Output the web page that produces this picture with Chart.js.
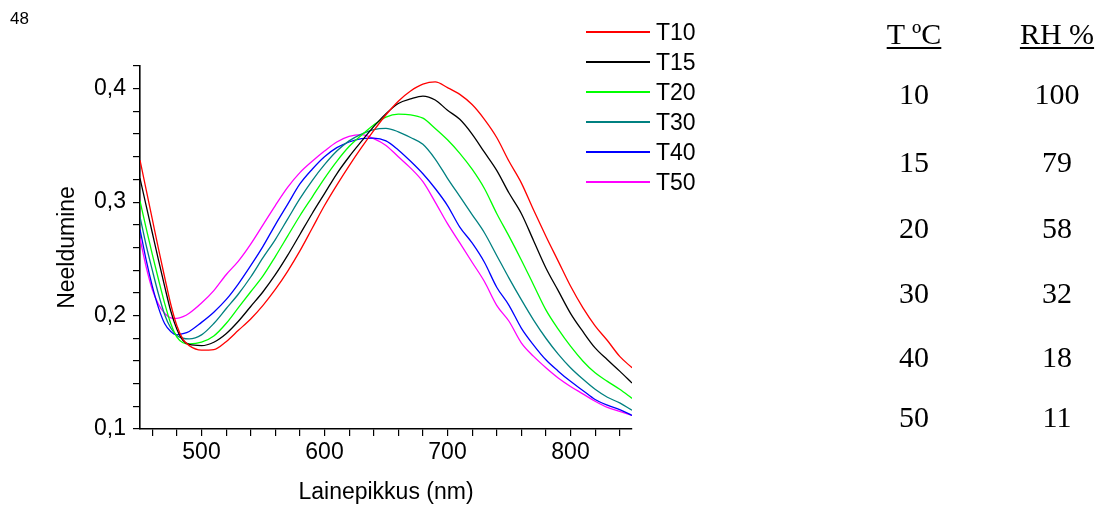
<!DOCTYPE html>
<html>
<head>
<meta charset="utf-8">
<script src="https://cdn.jsdelivr.net/npm/chart.js@4/dist/chart.umd.min.js"></script>
<style>
    html, body { margin: 0; padding: 0; background: #fff; }
    #wrap { position: relative; width: 1101px; height: 506px; overflow: hidden; }
    #chart { position: absolute; left: 0; top: 0; }
    .txt { position: absolute; white-space: nowrap; color: #000; }
    .sans { font-family: "Liberation Sans", Arial, sans-serif; }
    .serif { font-family: "Liberation Serif", "Times New Roman", serif; font-size: 30px; line-height: 30px; text-align: center; width: 120px; }
    .legline { position: absolute; height: 2px; width: 64px; }
</style>
</head>
<body>
<div id="wrap">
    <canvas id="chart" width="1101" height="506"></canvas>
</div>
<script>
// lainepikkused (nm)
const wavelengths = [450, 455, 460, 465, 470, 475, 480, 485, 490, 500, 510, 520, 530, 540, 550, 560, 570, 580, 590, 600,
    610, 620, 630, 640, 650, 660, 670, 680, 690, 700, 710, 720, 730, 740, 750, 760, 770, 780, 790, 800,
    810, 820, 830, 840, 850];

const t10 = [0.337, 0.311, 0.285, 0.259, 0.234, 0.210, 0.191, 0.179, 0.1735, 0.1695, 0.170, 0.177, 0.187, 0.197, 0.209, 0.223, 0.239, 0.257, 0.277, 0.297,
    0.315, 0.332, 0.348, 0.363, 0.377, 0.389, 0.398, 0.404, 0.406, 0.401, 0.395, 0.386, 0.373, 0.357, 0.336, 0.317, 0.293, 0.270, 0.248, 0.226,
    0.207, 0.191, 0.178, 0.164, 0.154];
const t15 = [0.321, 0.297, 0.273, 0.249, 0.226, 0.204, 0.188, 0.178, 0.1745, 0.1735, 0.1765, 0.184, 0.195, 0.208, 0.221, 0.236, 0.253, 0.2715, 0.290, 0.3075,
    0.325, 0.340, 0.3535, 0.3665, 0.378, 0.387, 0.391, 0.3935, 0.390, 0.381, 0.373, 0.360, 0.344, 0.328, 0.308, 0.290, 0.266, 0.242, 0.222, 0.202,
    0.186, 0.1715, 0.161, 0.151, 0.1405];
const t20 = [0.301, 0.277, 0.254, 0.232, 0.211, 0.193, 0.181, 0.176, 0.175, 0.1765, 0.182, 0.193, 0.207, 0.221, 0.235, 0.252, 0.270, 0.288, 0.3045, 0.321,
    0.336, 0.349, 0.359, 0.368, 0.375, 0.3775, 0.377, 0.374, 0.365, 0.355, 0.343, 0.329, 0.312, 0.290, 0.270, 0.249, 0.227, 0.205, 0.188, 0.173,
    0.160, 0.1495, 0.142, 0.135, 0.127];
const t30 = [0.287, 0.262, 0.240, 0.219, 0.201, 0.189, 0.1825, 0.180, 0.1795, 0.183, 0.193, 0.206, 0.219, 0.234, 0.251, 0.267, 0.285, 0.303, 0.319, 0.333,
    0.345, 0.354, 0.360, 0.364, 0.365, 0.362, 0.357, 0.351, 0.338, 0.321, 0.305, 0.289, 0.273, 0.253, 0.233, 0.214, 0.196, 0.180, 0.166, 0.154,
    0.144, 0.135, 0.128, 0.123, 0.1165];
const t40 = [0.276, 0.249, 0.226, 0.207, 0.193, 0.186, 0.183, 0.184, 0.186, 0.194, 0.203, 0.214, 0.228, 0.244, 0.261, 0.280, 0.298, 0.316, 0.329, 0.340,
    0.348, 0.353, 0.356, 0.3565, 0.354, 0.346, 0.336, 0.325, 0.312, 0.297, 0.278, 0.264, 0.247, 0.225, 0.209, 0.189, 0.174, 0.161, 0.151, 0.142,
    0.134, 0.126, 0.121, 0.117, 0.112];
const t50 = [0.268, 0.243, 0.223, 0.210, 0.202, 0.198, 0.1975, 0.199, 0.202, 0.211, 0.222, 0.236, 0.248, 0.263, 0.280, 0.297, 0.313, 0.326, 0.336, 0.345,
    0.353, 0.358, 0.3595, 0.356, 0.350, 0.340, 0.330, 0.318, 0.300, 0.281, 0.264, 0.247, 0.230, 0.209, 0.195, 0.176, 0.164, 0.154, 0.145, 0.1375,
    0.131, 0.1245, 0.119, 0.1155, 0.112];

const seriesNames = ['T10', 'T15', 'T20', 'T30', 'T40', 'T50'];
const seriesValues = [t10, t15, t20, t30, t40, t50];
const seriesColors = ['#ff0000', '#000000', '#00ff00', '#008080', '#0000ff', '#ff00ff'];

// tabel paremal
const tableTemps = ['10', '15', '20', '30', '40', '50'];
const tableRH = ['100', '79', '58', '32', '18', '11'];

// telgede jaotised
const xTicks = [460, 480, 500, 520, 540, 560, 580, 600, 620, 640, 660, 680, 700, 720, 740, 760, 780, 800, 820, 840];
const yTicks = [0.10, 0.12, 0.14, 0.16, 0.18, 0.20, 0.22, 0.24, 0.26, 0.28, 0.30, 0.32, 0.34, 0.36, 0.38, 0.40, 0.42];

const wrap = document.getElementById('wrap');
const sansFont = '"Liberation Sans", Arial, sans-serif';
const axisFontSize = 23;

const datasets = seriesNames.map((name, i) => ({
    label: name,
    data: wavelengths.map((x, j) => ({ x: x, y: seriesValues[i][j] })),
    borderColor: seriesColors[i],
    borderWidth: 1.3,
    pointRadius: 0,
    cubicInterpolationMode: 'monotone',
    fill: false
}));

const isMajor = (v, step) => Math.abs(v / step - Math.round(v / step)) < 1e-6;

new Chart(document.getElementById('chart'), {
    type: 'line',
    data: { datasets: datasets },
    options: {
        responsive: false,
        animation: false,
        events: [],
        layout: { padding: { top: 66, right: 469, bottom: 0, left: 0 } },
        plugins: { legend: { display: false }, tooltip: { enabled: false } },
        scales: {
            x: {
                type: 'linear',
                min: 450,
                max: 850,
                afterBuildTicks: (scale) => { scale.ticks = xTicks.map(v => ({ value: v })); },
                afterFit: (scale) => { scale.height = 77; },
                border: { display: true, color: '#000', width: 1.6 },
                grid: { drawOnChartArea: false, drawTicks: true, tickLength: 7, color: '#000', lineWidth: 1.2 },
                ticks: {
                    autoSkip: false,
                    maxRotation: 0,
                    padding: 3,
                    color: '#000',
                    font: { family: sansFont, size: axisFontSize },
                    callback: (v) => isMajor(v, 100) ? String(v) : ''
                },
                title: {
                    display: true,
                    text: 'Lainepikkus (nm)',
                    color: '#000',
                    font: { family: sansFont, size: axisFontSize },
                    padding: { top: 0, bottom: 0 }
                }
            },
            y: {
                type: 'linear',
                min: 0.1,
                max: 0.42,
                afterBuildTicks: (scale) => { scale.ticks = yTicks.map(v => ({ value: v })); },
                afterFit: (scale) => { scale.width = 140; },
                border: { display: true, color: '#000', width: 1.6 },
                grid: { drawOnChartArea: false, drawTicks: true, tickLength: 7, color: '#000', lineWidth: 1.2 },
                ticks: {
                    autoSkip: false,
                    padding: 7,
                    color: '#000',
                    font: { family: sansFont, size: axisFontSize },
                    callback: (v) => isMajor(v, 0.1) ? v.toFixed(1).replace('.', ',') : ''
                },
                title: {
                    display: true,
                    text: 'Neeldumine',
                    color: '#000',
                    font: { family: sansFont, size: axisFontSize },
                    padding: { top: 54, bottom: 0 }
                }
            }
        }
    }
});

// leheküljenumber
const pageNo = document.createElement('div');
pageNo.className = 'txt sans';
pageNo.style.cssText = 'left:10px;top:10px;font-size:17px;line-height:17px;';
pageNo.textContent = '48';
wrap.appendChild(pageNo);

// legend
seriesNames.forEach((name, i) => {
    const y = 32 + i * 30;
    const line = document.createElement('div');
    line.className = 'legline';
    line.style.left = '586px';
    line.style.top = (y - 1) + 'px';
    line.style.background = seriesColors[i];
    wrap.appendChild(line);
    const lab = document.createElement('div');
    lab.className = 'txt sans';
    lab.style.cssText = 'left:656px;top:' + (y - 11.5) + 'px;font-size:23px;line-height:23px;';
    lab.textContent = name;
    wrap.appendChild(lab);
});

// tabel
const colCenters = [914, 1057];
const rowCenters = [94, 162, 228, 293, 357, 417];
const addCell = (text, cx, cy, underline) => {
    const d = document.createElement('div');
    d.className = 'txt serif';
    d.style.left = (cx - 60) + 'px';
    d.style.top = (cy - 15) + 'px';
    if (underline) {
        d.innerHTML = '<span style="text-decoration: underline; text-decoration-thickness: 2px; text-underline-offset: 3px;"></span>';
        d.firstChild.textContent = text;
    } else {
        d.textContent = text;
    }
    wrap.appendChild(d);
};
addCell('T ºC', colCenters[0], 34, true);
addCell('RH %', colCenters[1], 34, true);
tableTemps.forEach((t, i) => addCell(t, colCenters[0], rowCenters[i], false));
tableRH.forEach((r, i) => addCell(r, colCenters[1], rowCenters[i], false));
</script>
</body>
</html>
